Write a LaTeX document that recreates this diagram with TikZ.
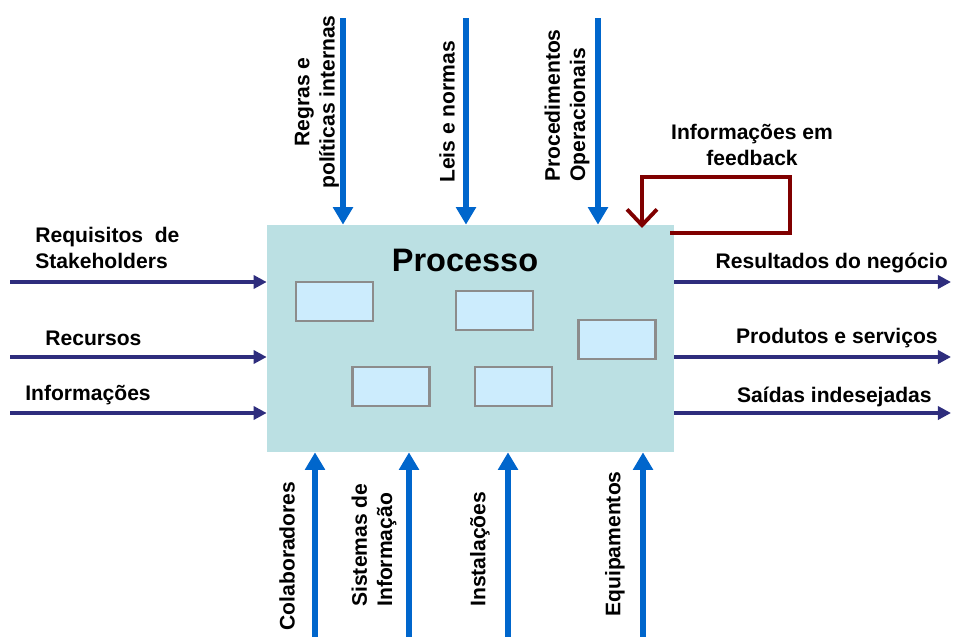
\documentclass[tikz,border=0pt]{standalone}
\usepackage{fontspec}
\setmainfont{Liberation Sans}
\usetikzlibrary{arrows.meta}

\definecolor{flowblue}{HTML}{0066CC}
\definecolor{flownavy}{HTML}{2E2D7D}
\definecolor{fbred}{HTML}{800000}
\definecolor{procfill}{HTML}{BBE0E3}
\definecolor{taskfill}{HTML}{CCECFD}

\begin{document}
\begin{tikzpicture}[x=0.02cm,y=-0.02cm,
  lbl/.style={inner sep=0pt,font=\bfseries\fontsize{12}{14.4}\selectfont},
  vlbl/.style={lbl,rotate=90},
  procbox/.style={draw=none,fill=procfill,minimum width=8.14cm,minimum height=4.54cm},
  taskbox/.style={draw=black!45,line width=1.2pt,fill=taskfill,minimum width=1.54cm,minimum height=0.78cm},
  ctrlarrow/.style={draw=flowblue,line width=3.4pt,-{Triangle[length=10pt,width=11pt]}},
  sidearrow/.style={draw=flownavy,line width=2.2pt,-{Triangle[length=7.5pt,width=7.5pt]}},
  fbarrow/.style={draw=fbred,line width=2.2pt,-{Straight Barb[length=9pt,width=17pt,line width=2.2pt]}}]
\useasboundingbox (0,0) rectangle (953,636);
\node[procbox] (proc) at (470.5,338.5) {}; % Processo (box)
\node[inner sep=0pt,font=\bfseries\fontsize{18.5}{22}\selectfont] (title) at (465,260) {Processo};
%% Activities inside the process
\node[taskbox] (task1) at (334.5,301.5) {};
\node[taskbox] (task2) at (494.5,310.5) {};
\node[taskbox] (task3) at (617,339.5) {};
\node[taskbox] (task4) at (391,386.5) {};
\node[taskbox] (task5) at (513.5,386.5) {};
%% Controls (top)
\coordinate (top1) at (343,18);
\coordinate (top2) at (466,18);
\coordinate (top3) at (598,18);
\draw[ctrlarrow] (top1) -- (top1 |- proc.north); % Regras
\draw[ctrlarrow] (top2) -- (top2 |- proc.north); % Leis
\draw[ctrlarrow] (top3) -- (top3 |- proc.north); % Procedimentos
\node[vlbl,align=center] (regras) at (317,102) {Regras e\\políticas internas};
\node[vlbl,anchor=west] (leis) at (447,183) {Leis e normas};
\node[vlbl,anchor=west,align=left] (proced) at (567,182) {Procedimentos\\Operacionais};
%% Mechanisms (bottom)
\coordinate (bot1) at (315,640);
\coordinate (bot2) at (409,640);
\coordinate (bot3) at (508,640);
\coordinate (bot4) at (643,640);
\draw[ctrlarrow] (bot1) -- (bot1 |- proc.south); % Colaboradores
\draw[ctrlarrow] (bot2) -- (bot2 |- proc.south); % Sistemas
\draw[ctrlarrow] (bot3) -- (bot3 |- proc.south); % Instalacoes
\draw[ctrlarrow] (bot4) -- (bot4 |- proc.south); % Equipamentos
\node[vlbl] (colab) at (287,556) {Colaboradores};
\node[vlbl,anchor=west,align=left] (sistemas) at (374,607) {Sistemas de\\Informação};
\node[vlbl,anchor=west] (instal) at (480,607) {Instalações};
\node[vlbl,anchor=west] (equip) at (615,617) {Equipamentos};
%% Inputs (left)
\coordinate (in1) at (10,282);
\coordinate (in2) at (10,357);
\coordinate (in3) at (10,413);
\draw[sidearrow] (in1) -- (in1 -| proc.west);
\draw[sidearrow] (in2) -- (in2 -| proc.west);
\draw[sidearrow] (in3) -- (in3 -| proc.west);
\node[lbl,anchor=west,align=left] (requis) at (35,248) {Requisitos\ \ de\\Stakeholders};
\node[lbl,anchor=west] (recursos) at (45,338) {Recursos};
\node[lbl,anchor=west] (infos) at (25,395) {Informações};
%% Outputs (right)
\coordinate (out1) at (951,282);
\coordinate (out2) at (951,357);
\coordinate (out3) at (951,413);
\draw[sidearrow] (out1 -| proc.east) -- (out1);
\draw[sidearrow] (out2 -| proc.east) -- (out2);
\draw[sidearrow] (out3 -| proc.east) -- (out3);
\node[lbl,anchor=east] (result) at (948,263) {Resultados do negócio};
\node[lbl,anchor=east] (produtos) at (938,338) {Produtos e serviços};
\node[lbl,anchor=east] (saidas) at (932,397) {Saídas indesejadas};
%% Feedback loop
\coordinate (fbstart) at (670,233);
\coordinate (fbcorner) at (790,177);
\coordinate (fbend) at (642,228);
\draw[fbarrow] (fbstart) -| (fbcorner) -| (fbend);
\node[lbl,align=center] (fblabel) at (752,145) {Informações em\\feedback};
\end{tikzpicture}
\end{document}
